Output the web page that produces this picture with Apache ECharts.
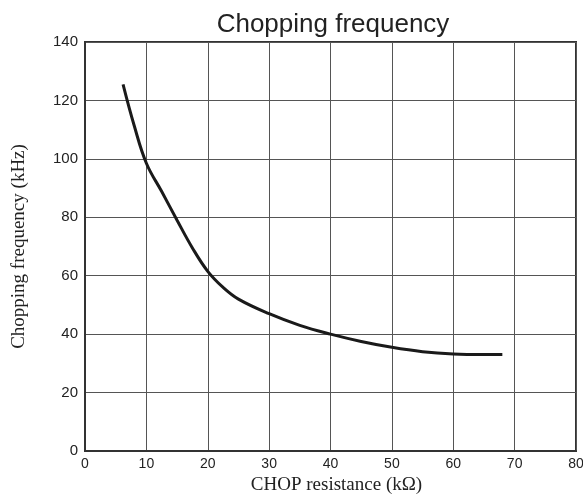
<!DOCTYPE html>
<html>
<head>
<meta charset="utf-8">
<script src="https://cdn.jsdelivr.net/npm/echarts@6/dist/echarts.min.js"></script>
<style>html,body{margin:0;padding:0;background:#fff;}#c{width:583px;height:497px;}</style>
</head>
<body>
<div id="c"></div>
<script>
const resistance = [6.2, 8, 10, 12.5, 15, 17.5, 20, 22.5, 25, 30, 35, 40, 45, 50, 55, 60, 65, 68];
const frequency = [125.5, 111.5, 98.5, 88.8, 79, 69.5, 61.5, 56, 52, 47, 43, 40, 37.5, 35.5, 34, 33.2, 33, 33];
const xTicks = [0, 10, 20, 30, 40, 50, 60, 70, 80];
const yTicks = [0, 20, 40, 60, 80, 100, 120, 140];

const chart = echarts.init(document.getElementById('c'), null, {renderer: 'canvas'});
chart.setOption({
  animation: false,
  backgroundColor: '#fff',
  title: {
    text: 'Chopping frequency',
    left: 328, top: 7, textAlign: 'center',
    textStyle: {fontFamily: 'Liberation Sans', fontSize: 26, fontWeight: 'normal', color: '#222'}
  },
  grid: {left: 85, right: 7, top: 42, bottom: 46, show: true, borderColor: '#333', borderWidth: 2,
         containLabel: false, outerBoundsMode: 'none'},
  xAxis: {
    type: 'value', min: xTicks[0], max: xTicks[xTicks.length - 1], interval: 10,
    name: 'CHOP resistance (kΩ)', nameLocation: 'middle', nameGap: 25,
    nameTextStyle: {fontFamily: 'Liberation Serif', fontSize: 19, color: '#222', padding: [0, 0, 0, 12]},
    axisLine: {lineStyle: {color: '#333', width: 2}},
    axisTick: {show: false},
    axisLabel: {fontFamily: 'Liberation Sans', fontSize: 14, color: '#222', margin: 6},
    splitLine: {show: true, lineStyle: {color: '#555', width: 1}}
  },
  yAxis: {
    type: 'value', min: yTicks[0], max: yTicks[yTicks.length - 1], interval: 20,
    name: 'Chopping frequency (kHz)', nameLocation: 'middle', nameGap: 56,
    nameTextStyle: {fontFamily: 'Liberation Serif', fontSize: 19, color: '#222'},
    axisLine: {lineStyle: {color: '#333', width: 2}},
    axisTick: {show: false},
    axisLabel: {fontFamily: 'Liberation Sans', fontSize: 15, color: '#222', margin: 7},
    splitLine: {show: true, lineStyle: {color: '#555', width: 1}}
  },
  series: [{
    type: 'line',
    data: resistance.map((x, i) => [x, frequency[i]]),
    smooth: 0.4,
    showSymbol: false,
    lineStyle: {color: '#1a1a1a', width: 3}
  }]
});
</script>
</body>
</html>
